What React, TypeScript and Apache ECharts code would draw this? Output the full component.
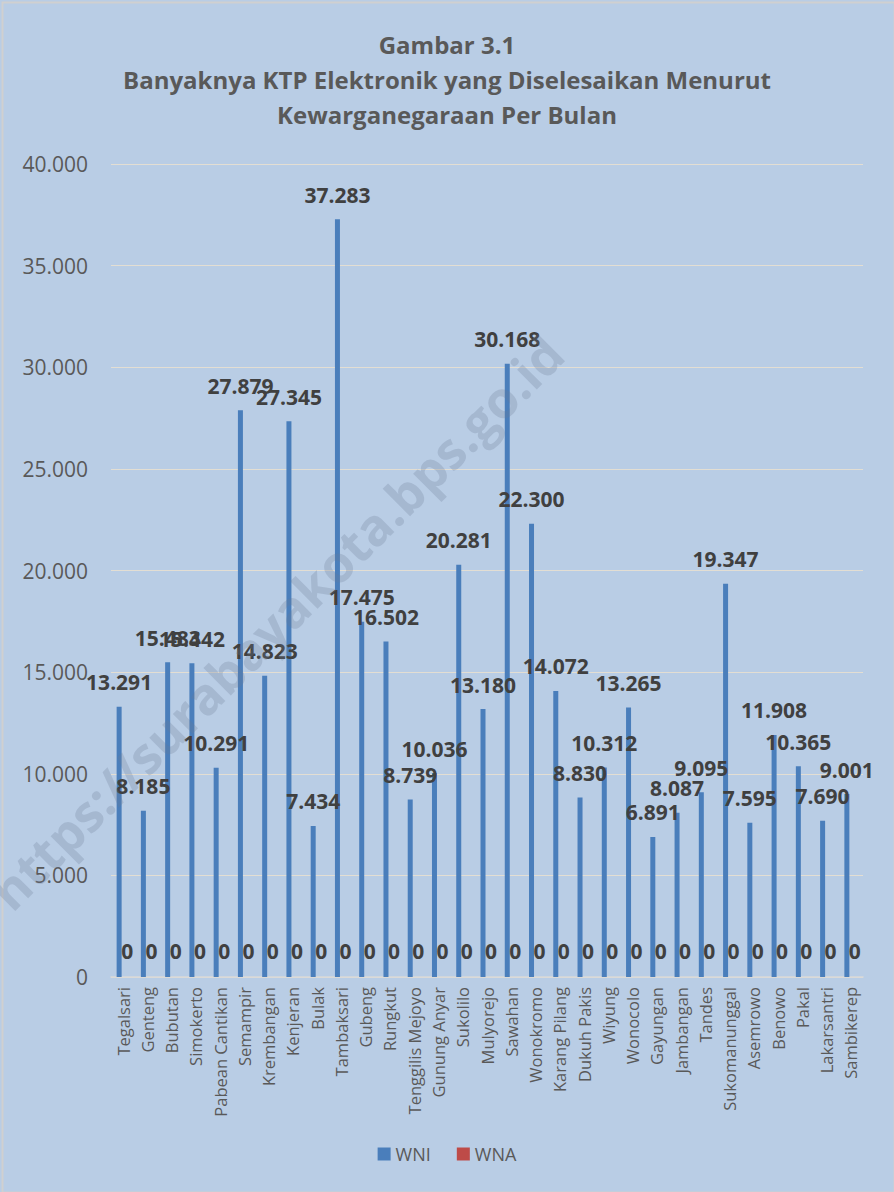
import React, { useEffect, useRef } from "react";
import * as echarts from "echarts";

const categories = [
  "Tegalsari", "Genteng", "Bubutan", "Simokerto", "Pabean Cantikan", "Semampir",
  "Krembangan", "Kenjeran", "Bulak", "Tambaksari", "Gubeng", "Rungkut",
  "Tenggilis Mejoyo", "Gunung Anyar", "Sukolilo", "Mulyorejo", "Sawahan",
  "Wonokromo", "Karang Pilang", "Dukuh Pakis", "Wiyung", "Wonocolo", "Gayungan",
  "Jambangan", "Tandes", "Sukomanunggal", "Asemrowo", "Benowo", "Pakal",
  "Lakarsantri", "Sambikerep",
];

const wni = [
  13291, 8185, 15483, 15442, 10291, 27879, 14823, 27345, 7434, 37283, 17475, 16502,
  8739, 10036, 20281, 13180, 30168, 22300, 14072, 8830, 10312, 13265, 6891, 8087,
  9095, 19347, 7595, 11908, 10365, 7690, 9001,
];

const wna = [
  0, 0, 0, 0, 0, 0, 0, 0, 0, 0, 0, 0, 0, 0, 0, 0, 0, 0, 0, 0, 0, 0, 0, 0, 0, 0, 0, 0, 0, 0, 0,
];

const titleLines = [
  "Gambar 3.1",
  "Banyaknya KTP Elektronik yang Diselesaikan Menurut",
  "Kewarganegaraan Per Bulan",
];

const fmt = (v: number) =>
  String(Math.round(v)).replace(/\B(?=(\d{3})+(?!\d))/g, ".");

const FONT = "'Open Sans', 'Noto Sans', sans-serif";

export default function App() {
  const ref = useRef<HTMLDivElement>(null);
  useEffect(() => {
    if (!ref.current) return;
    const chart = echarts.init(ref.current, undefined, { renderer: "svg" });
    const labelStyle = {
      show: true,
      position: "top" as const,
      fontFamily: FONT,
      fontSize: 21,
      fontWeight: "bold" as const,
      color: "#404040",
      formatter: (p: any) => fmt(p.value),
    };
    chart.setOption({
      animation: false,
      backgroundColor: "#b9cde5",
      title: {
        text: titleLines.join("\n"),
        left: "center",
        top: 22,
        textStyle: {
          fontFamily: FONT,
          fontSize: 24,
          fontWeight: "bold",
          color: "#595959",
          lineHeight: 35,
        },
      },
      graphic: [
        {
          type: "rect",
          left: 0,
          top: 0,
          shape: { x: 0, y: 0, width: 892, height: 1190 },
          style: { fill: "none", stroke: "#d0d0d0", lineWidth: 2 },
          silent: true,
        },
        {
          type: "text",
          x: 276,
          y: 622,
          rotation: Math.PI / 4,
          style: {
            text: "https://surabayakota.bps.go.id",
            fontFamily: FONT,
            fontSize: 51,
            fontWeight: "bold",
            fill: "rgba(110,125,150,0.26)",
            align: "center",
            verticalAlign: "middle",
          },
          silent: true,
          z: 100,
        },
      ],
      legend: {
        bottom: 24,
        left: "center",
        itemWidth: 13,
        itemHeight: 13,
        itemGap: 26,
        icon: "rect",
        textStyle: { fontFamily: FONT, fontSize: 18, color: "#595959" },
        data: ["WNI", "WNA"],
      },
      grid: { left: 111, right: 31, top: 164, bottom: 215 },
      xAxis: {
        type: "category",
        data: categories,
        axisLine: { lineStyle: { color: "#d9d9d9", width: 1.5 } },
        axisTick: { show: false },
        axisLabel: {
          rotate: 90,
          interval: 0,
          fontFamily: FONT,
          fontSize: 16.5,
          color: "#595959",
          margin: 10,
        },
      },
      yAxis: {
        type: "value",
        min: 0,
        max: 40000,
        interval: 5000,
        axisLine: { show: false },
        axisTick: { show: false },
        splitLine: { lineStyle: { color: "#e3ded3", width: 1 } },
        axisLabel: {
          fontFamily: FONT,
          fontSize: 21,
          color: "#595959",
          margin: 23,
          formatter: (v: number) => fmt(v),
        },
      },
      series: [
        {
          name: "WNI",
          type: "bar",
          data: wni,
          barWidth: 5,
          barGap: "60%",
          itemStyle: { color: "#4a7ebb" },
          label: { ...labelStyle, distance: 14 },
        },
        {
          name: "WNA",
          type: "bar",
          data: wna,
          barWidth: 5,
          itemStyle: { color: "#be4b48" },
          label: { ...labelStyle, distance: 16 },
        },
      ],
    });
    return () => chart.dispose();
  }, []);
  return (
    <div
      ref={ref}
      style={{ position: "absolute", left: 0, top: 0, width: 894, height: 1192 }}
    />
  );
}
